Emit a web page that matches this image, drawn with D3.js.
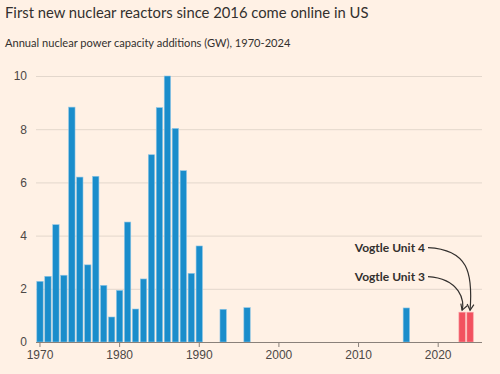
<!DOCTYPE html>
<html>
<head>
<meta charset="utf-8">
<script src="https://cdn.jsdelivr.net/npm/d3@7"></script>
<style>
  body { margin: 0; background: #fff1e5; }
  svg { display: block; font-family: Lato, sans-serif; }
  .tick text { fill: #4d4845; font-size: 12px; }
</style>
</head>
<body>
<div id="chart"></div>
<script>
// years 1970..2024, annual capacity additions in GW
var years = d3.range(1970, 2025);
var values = [
  2.28, 2.47, 4.41, 2.51, 8.83, 6.2, 2.9, 6.23, 2.13, 0.94,
  1.94, 4.51, 1.24, 2.37, 7.04, 8.81, 10.0, 8.03, 6.44, 2.58,
  3.61, 0, 0, 1.23, 0, 0, 1.29, 0, 0, 0,
  0, 0, 0, 0, 0, 0, 0, 0, 0, 0,
  0, 0, 0, 0, 0, 0, 1.28, 0, 0, 0,
  0, 0, 0, 1.12, 1.12
];
var highlight = [2023, 2024];
var yTicks = [0, 2, 4, 6, 8, 10];
var xTicks = [1970, 1980, 1990, 2000, 2010, 2020];
var notes = [
  {label: "Vogtle Unit 3", year: 2023, at: 2.46},
  {label: "Vogtle Unit 4", year: 2024, at: 3.55}
];

var data = years.map(function (y, i) { return {year: y, value: values[i]}; });

function draw_chart(element) {
    var svg = d3.select("#" + element).append("svg").attr("width", 500).attr("height", 374),
        margin = {top: 76, right: 18, bottom: 32, left: 36},
        width = +svg.attr("width") - margin.left - margin.right,
        height = +svg.attr("height") - margin.top - margin.bottom;

    svg.append("text")
        .attr("x", 5).attr("y", 17.5)
        .attr("fill", "#33302e")
        .style("font-size", "14.8px")
        .text("First new nuclear reactors since 2016 come online in US");

    svg.append("text")
        .attr("x", 5).attr("y", 47)
        .attr("fill", "#33302e")
        .style("font-size", "11.1px")
        .text("Annual nuclear power capacity additions (GW), 1970-2024");

    var x = d3.scaleBand()
        .domain(d3.range(1970, 2026))
        .range([0, width])
        .paddingInner(0.2)
        .paddingOuter(0.1);
    var y = d3.scaleLinear().domain([0, 10]).range([height, 0]);

    var g = svg.append("g")
        .attr("transform", "translate(" + margin.left + "," + margin.top + ")");

    // gridlines
    g.append("g")
        .attr("class", "y axis")
        .call(d3.axisLeft(y).tickValues(yTicks).tickSize(-width).tickPadding(9))
        .call(function (a) {
            a.select(".domain").remove();
            a.selectAll(".tick line").attr("stroke", "#e3d7cc");
        });

    g.selectAll(".bar")
        .data(data.filter(function (d) { return d.value > 0; }))
        .enter().append("rect")
        .attr("class", "bar")
        .attr("x", function (d) { return x(d.year); })
        .attr("width", x.bandwidth())
        .attr("y", function (d) { return y(d.value); })
        .attr("height", function (d) { return height - y(d.value); })
        .attr("fill", function (d) {
            return highlight.indexOf(d.year) >= 0 ? "#f2515f" : "#1a8dcb";
        })
        .attr("stroke", function (d) {
            return highlight.indexOf(d.year) >= 0 ? "#f8a0a6" : "#8ec6e6";
        })
        .attr("stroke-width", 0.6);

    g.append("g")
        .attr("class", "x axis")
        .attr("transform", "translate(0," + height + ")")
        .call(d3.axisBottom(x).tickValues(xTicks).tickSize(5).tickPadding(3))
        .call(function (a) {
            a.select(".domain").attr("stroke", "#8a817a").attr("d", "M0,0.5H" + width);
            a.selectAll(".tick line").attr("stroke", "#8a817a");
        });

    // annotations
    svg.append("defs").append("marker")
        .attr("id", "arrow")
        .attr("viewBox", "0 0 10 10")
        .attr("refX", 8).attr("refY", 5)
        .attr("markerWidth", 7).attr("markerHeight", 7)
        .attr("orient", "auto")
        .append("path")
        .attr("d", "M1,1 L8,5 L1,9")
        .attr("fill", "none")
        .attr("stroke", "#33302e")
        .attr("stroke-width", 1.4);

    notes.forEach(function (n) {
        var ty = y(n.at);
        var endX = x(n.year) + x.bandwidth() / 2;
        var endY = y(values[years.indexOf(n.year)]) - 2;
        var startX = 392;
        g.append("text")
            .attr("x", startX - 3).attr("y", ty + 4.5)
            .attr("text-anchor", "end")
            .attr("fill", "#33302e")
            .style("font-size", "12px")
            .style("font-weight", "bold")
            .text(n.label);
        g.append("path")
            .attr("d", "M" + startX + "," + ty + " C" + (endX - 2) + "," + (ty + 2) + " " + (endX + 3) + "," + (ty + 25) + " " + endX + "," + endY)
            .attr("fill", "none")
            .attr("stroke", "#33302e")
            .attr("stroke-width", 1.2)
            .attr("marker-end", "url(#arrow)");
    });
}

draw_chart("chart");
</script>
</body>
</html>
